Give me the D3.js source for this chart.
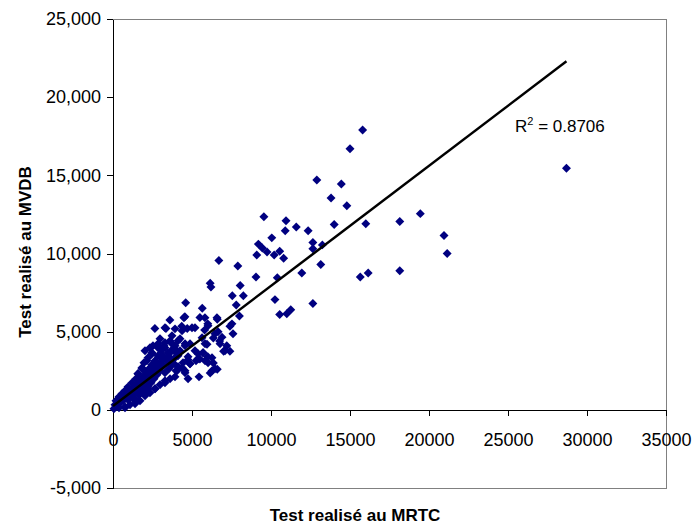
<!DOCTYPE html>
<html>
<head>
<meta charset="utf-8">
<script src="https://cdn.jsdelivr.net/npm/d3@7"></script>
<style>
    body { margin: 0; background: #fff; }
    text { font-family: "Liberation Sans", Arial, sans-serif; }
</style>
</head>
<body>
<div id="chart"></div>
<script>
// test values (MRTC on x, MVDB on y)
const mrtc = [
    28700, 15800, 15000, 12900, 14450, 13800, 14800, 14000, 12350, 16000,
    18150, 19450, 20950, 21150, 12650, 12650, 13250, 13150, 11950, 15650,
    16150, 18150, 12650, 9550, 10950, 10900, 11600, 10050, 9200, 9450,
    9750, 9100, 10200, 10550, 10800, 9050, 10400, 10250, 10550, 11000,
    11250, 6700, 7900, 6150, 6200, 8050, 7550, 8250, 7800, 5650,
    4600, 4550, 5500, 3600, 2650, 3350, 4350, 4700, 5000, 6000,
    7400, 7200, 7400, 6600, 8000, 6650, 5800, 6350, 6750, 6900,
    5950, 7000, 6600, 6150, 5700, 6000, 6350, 5500,
    2975, 3290, 3610, 3925, 4240, 4560, 4875, 5190, 2975, 3610,
    4115, 4750, 5255, 2530, 3165, 4050, 4370, 4875, 5380, 6270,
    6015, 5445, 4750, 5700,
    60, 190, 315, 255, 445, 505, 635, 695, 825, 885,
    950, 1075, 1140, 1265, 1330, 1395, 1520, 1580, 1645, 1710,
    1770, 1835, 1900, 1960, 2025, 2090, 2150, 2215, 2280, 2340,
    2405, 2470, 2530, 2595, 2660, 2720, 2785, 2850, 2910, 2975,
    3040, 3100, 3165, 3230, 3290, 3420, 3480, 3545, 3610, 3735,
    3800, 3925, 3990, 4115, 4240, 4430, 4560, 4750,
    2340, 2660, 2975, 3290, 3610, 3925, 2025, 1710, 1395, 1075,
    760, 380, 2785, 2470, 2215, 1960, 1835, 1580, 1455, 1205,
    950, 760, 570, 380, 190, 125,
    3290, 4490, 5190, 5820, 6580, 3925, 4560, 5635, 6015, 6455,
    6775, 7090, 5825, 5380, 5825, 6265, 4875, 3990, 4560, 6455,
    3860, 7530, 7595, 2850, 3290, 3735, 4115, 4370, 4050, 3480,
    3100, 2660, 2215, 1835, 1520, 3735, 2470, 2150, 1835, 1580,
    2025, 2340, 760, 1395, 2025, 2660, 3290, 2215
];
const mvdb = [
    15450, 17900, 16700, 14700, 14450, 13550, 13050, 11850, 11450, 11900,
    12050, 12550, 11150, 10000, 10700, 10300, 10550, 9300, 8750, 8500,
    8750, 8900, 6800, 12350, 12100, 11450, 11700, 11000, 10600, 10350,
    10100, 9900, 9900, 10150, 9700, 8500, 8450, 7050, 6100, 6150,
    6400, 9550, 9200, 8100, 7850, 7950, 7300, 7300, 6700, 6500,
    6850, 5950, 5900, 5750, 5200, 5200, 5350, 5200, 5250, 5500,
    5350, 4100, 3750, 5800, 6000, 5000, 5100, 4600, 4400, 4650,
    4200, 3750, 2600, 2350, 3650, 3400, 3000, 3250,
    4545, 4290, 4415, 4095, 4545, 4095, 4225, 3775, 3905, 3650,
    3455, 3390, 3135, 4095, 3455, 2495, 2690, 2945, 3265, 2495,
    3010, 2110, 1985, 3650,
    65, 190, 320, 510, 450, 705, 575, 830, 770, 1025,
    640, 1215, 895, 1410, 1090, 705, 1600, 1280, 960, 1855,
    1470, 1090, 2110, 1665, 1280, 2370, 1920, 1470, 2625, 2175,
    1730, 2880, 2430, 1985, 3135, 2690, 2240, 3455, 2945, 2495,
    3775, 3265, 2815, 4095, 2370, 3135, 3650, 2625, 3330, 2880,
    3905, 3330, 3650, 2750, 3775, 3010, 2495, 3200,
    1090, 1345, 1600, 1855, 1985, 2110, 895, 575, 385, 320,
    190, 130, 4030, 3650, 3330, 3010, 2625, 2305, 1985, 1730,
    1470, 1215, 1025, 830, 575, 320,
    5250, 5890, 5250, 5890, 5890, 5180, 4225, 4610, 5375, 4865,
    4225, 3775, 4225, 3585, 3135, 3330, 2945, 2495, 2370, 2625,
    2945, 5500, 4865, 4225, 3970, 4225, 4415, 5055, 3775, 3330,
    2945, 2625, 2050, 1730, 1410, 4735, 3585, 3135, 2690, 2305,
    3775, 3970, 130, 575, 1025, 1345, 1730, 1345
];

const xTicks = [0, 5000, 10000, 15000, 20000, 25000, 30000, 35000];
const xTickLabels = ["0", "5000", "10000", "15000", "20000", "25000", "30000", "35000"];
const yTicks = [-5000, 0, 5000, 10000, 15000, 20000, 25000];
const yTickLabels = ["-5,000", "0", "5,000", "10,000", "15,000", "20,000", "25,000"];

// linear trendline as drawn in the picture
const trendSlope = 0.768;
const trendIntercept = 250;
const trendEndX = 28700;
const r2Text = "0.8706";

const margin = { top: 19, right: 26, bottom: 41, left: 113 };
const width = 692 - margin.left - margin.right;
const height = 529 - margin.top - margin.bottom;
const tickFont = 18;

const svg = d3.select("#chart").append("svg")
    .attr("width", 692)
    .attr("height", 529)
    .append("g")
    .attr("transform", "translate(" + margin.left + "," + margin.top + ")");

const x = d3.scaleLinear().domain([0, 35000]).range([0, width]);
const y = d3.scaleLinear().domain([-5000, 25000]).range([height, 0]);

// plot area border (top / right / bottom)
svg.append("rect")
    .attr("x", 0).attr("y", 0)
    .attr("width", width).attr("height", height)
    .attr("fill", "none")
    .attr("stroke", "#808080")
    .attr("stroke-width", 1)
    .attr("shape-rendering", "crispEdges");

// y axis
const yAxis = svg.append("g")
    .call(d3.axisLeft(y).tickValues(yTicks)
        .tickFormat((d, i) => yTickLabels[i])
        .tickSize(6).tickSizeOuter(0).tickPadding(6));
yAxis.select(".domain").attr("stroke", "#000").attr("shape-rendering", "crispEdges");
yAxis.selectAll(".tick line").attr("stroke", "#000").attr("shape-rendering", "crispEdges");
yAxis.selectAll("text").attr("font-size", tickFont).attr("fill", "#000")
    .attr("font-family", "'Liberation Sans', Arial, sans-serif");

// x axis crosses at y = 0
const xAxis = svg.append("g")
    .attr("transform", "translate(0," + y(0) + ")")
    .call(d3.axisBottom(x).tickValues(xTicks)
        .tickFormat((d, i) => xTickLabels[i])
        .tickSize(6).tickSizeOuter(0).tickPadding(17));
xAxis.select(".domain").attr("stroke", "#000").attr("shape-rendering", "crispEdges");
xAxis.selectAll(".tick line").attr("stroke", "#000").attr("shape-rendering", "crispEdges");
xAxis.selectAll("text").attr("font-size", tickFont).attr("fill", "#000")
    .attr("font-family", "'Liberation Sans', Arial, sans-serif");

// points
const diamond = d3.symbol().type(d3.symbolSquare).size(40);
svg.append("g").selectAll(".pt")
    .data(d3.range(mrtc.length))
    .enter().append("path")
    .attr("class", "pt")
    .attr("d", diamond)
    .attr("fill", "#000080")
    .attr("transform", i => "translate(" + x(mrtc[i]) + "," + y(mvdb[i]) + ") rotate(45)");

// trendline
svg.append("line")
    .attr("x1", x(0)).attr("y1", y(trendIntercept))
    .attr("x2", x(trendEndX)).attr("y2", y(trendIntercept + trendSlope * trendEndX))
    .attr("stroke", "#000")
    .attr("stroke-width", 2.5);

// R² label
const r2 = svg.append("text")
    .attr("x", 402)
    .attr("y", 113)
    .attr("font-size", 17)
    .attr("fill", "#000");
r2.append("tspan").text("R");
r2.append("tspan").attr("dy", -7).attr("font-size", 11).text("2");
r2.append("tspan").attr("dy", 7).text(" = " + r2Text);

// axis titles
svg.append("text")
    .attr("x", 242)
    .attr("y", height + 33)
    .attr("text-anchor", "middle")
    .attr("font-size", 17)
    .attr("font-weight", "bold")
    .text("Test realisé au MRTC");

svg.append("text")
    .attr("transform", "translate(" + (-82) + "," + 233 + ") rotate(-90)")
    .attr("text-anchor", "middle")
    .attr("font-size", 17)
    .attr("font-weight", "bold")
    .text("Test realisé au MVDB");
</script>
</body>
</html>
